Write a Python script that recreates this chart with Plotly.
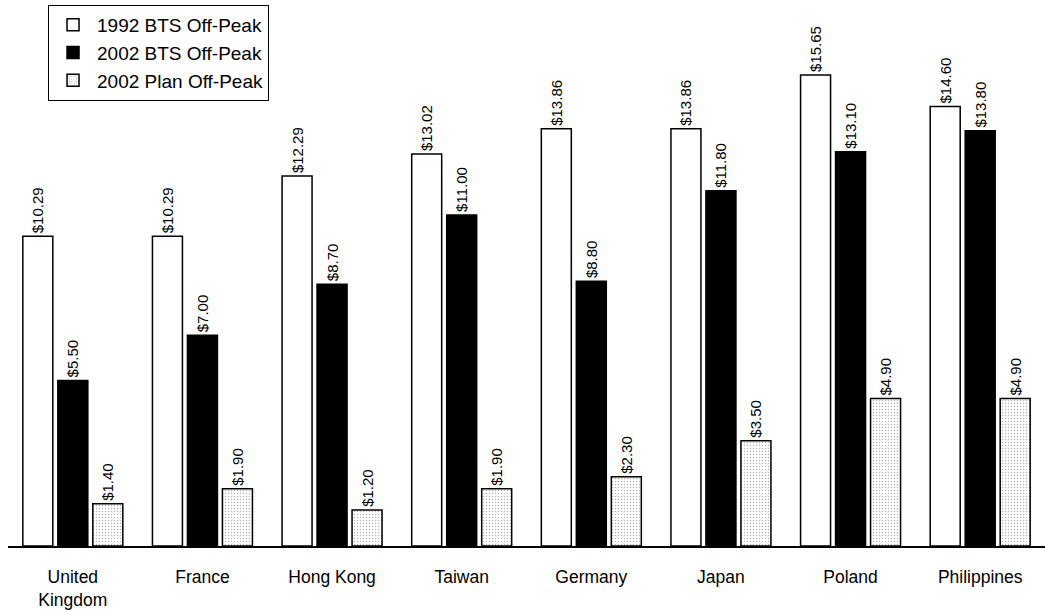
import plotly.graph_objects as go

countries = ["United<br>Kingdom", "France", "Hong Kong", "Taiwan", "Germany", "Japan", "Poland", "Philippines"]
bts_1992 = [10.29, 10.29, 12.29, 13.02, 13.86, 13.86, 15.65, 14.60]
bts_2002 = [5.50, 7.00, 8.70, 11.00, 8.80, 11.80, 13.10, 13.80]
plan_2002 = [1.40, 1.90, 1.20, 1.90, 2.30, 3.50, 4.90, 4.90]

series_names = ["1992 BTS Off-Peak", "2002 BTS Off-Peak", "2002 Plan Off-Peak"]

font = "Liberation Sans, Arial, sans-serif"

def labels(vals):
    return ["$%.2f" % v for v in vals]

common = dict(textposition="outside", textangle=-90, constraintext="none",
              textfont=dict(size=15, color="black", family=font), cliponaxis=False)

fig = go.Figure()
fig.add_trace(go.Bar(
    x=countries, y=bts_1992, name=series_names[0],
    marker=dict(color="white", line=dict(color="black", width=1.5)),
    text=labels(bts_1992), **common))
fig.add_trace(go.Bar(
    x=countries, y=bts_2002, name=series_names[1],
    marker=dict(color="black", line=dict(color="black", width=1.5)),
    text=labels(bts_2002), **common))
fig.add_trace(go.Bar(
    x=countries, y=plan_2002, name=series_names[2],
    marker=dict(color="white", line=dict(color="black", width=1.5),
                pattern=dict(shape=".", fgcolor="#666666", bgcolor="white", size=3, solidity=0.2)),
    text=labels(plan_2002), **common))

fig.update_layout(
    width=1045, height=612,
    margin=dict(l=8, r=0, t=0, b=66),
    paper_bgcolor="white", plot_bgcolor="white",
    barmode="group", bargap=0.19, bargroupgap=0.143,
    font=dict(family=font, size=17.5, color="black"),
    showlegend=True,
    uniformtext=dict(mode="show", minsize=15),
    legend=dict(x=0.0386, y=0.991, xanchor="left", yanchor="top",
                bordercolor="black", borderwidth=1, bgcolor="white",
                itemwidth=38,
                font=dict(size=19, family=font, color="black"), tracegroupgap=0),
    xaxis=dict(showline=True, linecolor="black", linewidth=2, ticks="",
               ticklabelstandoff=14, automargin=False,
               tickfont=dict(size=17.5, family=font, color="black"), showgrid=False),
    yaxis=dict(range=[0, 18.14], visible=False, showgrid=False, zeroline=False),
)

fig.write_html("out.html", config={"displayModeBar": False},
               post_script="document.body.style.margin='0px';")
